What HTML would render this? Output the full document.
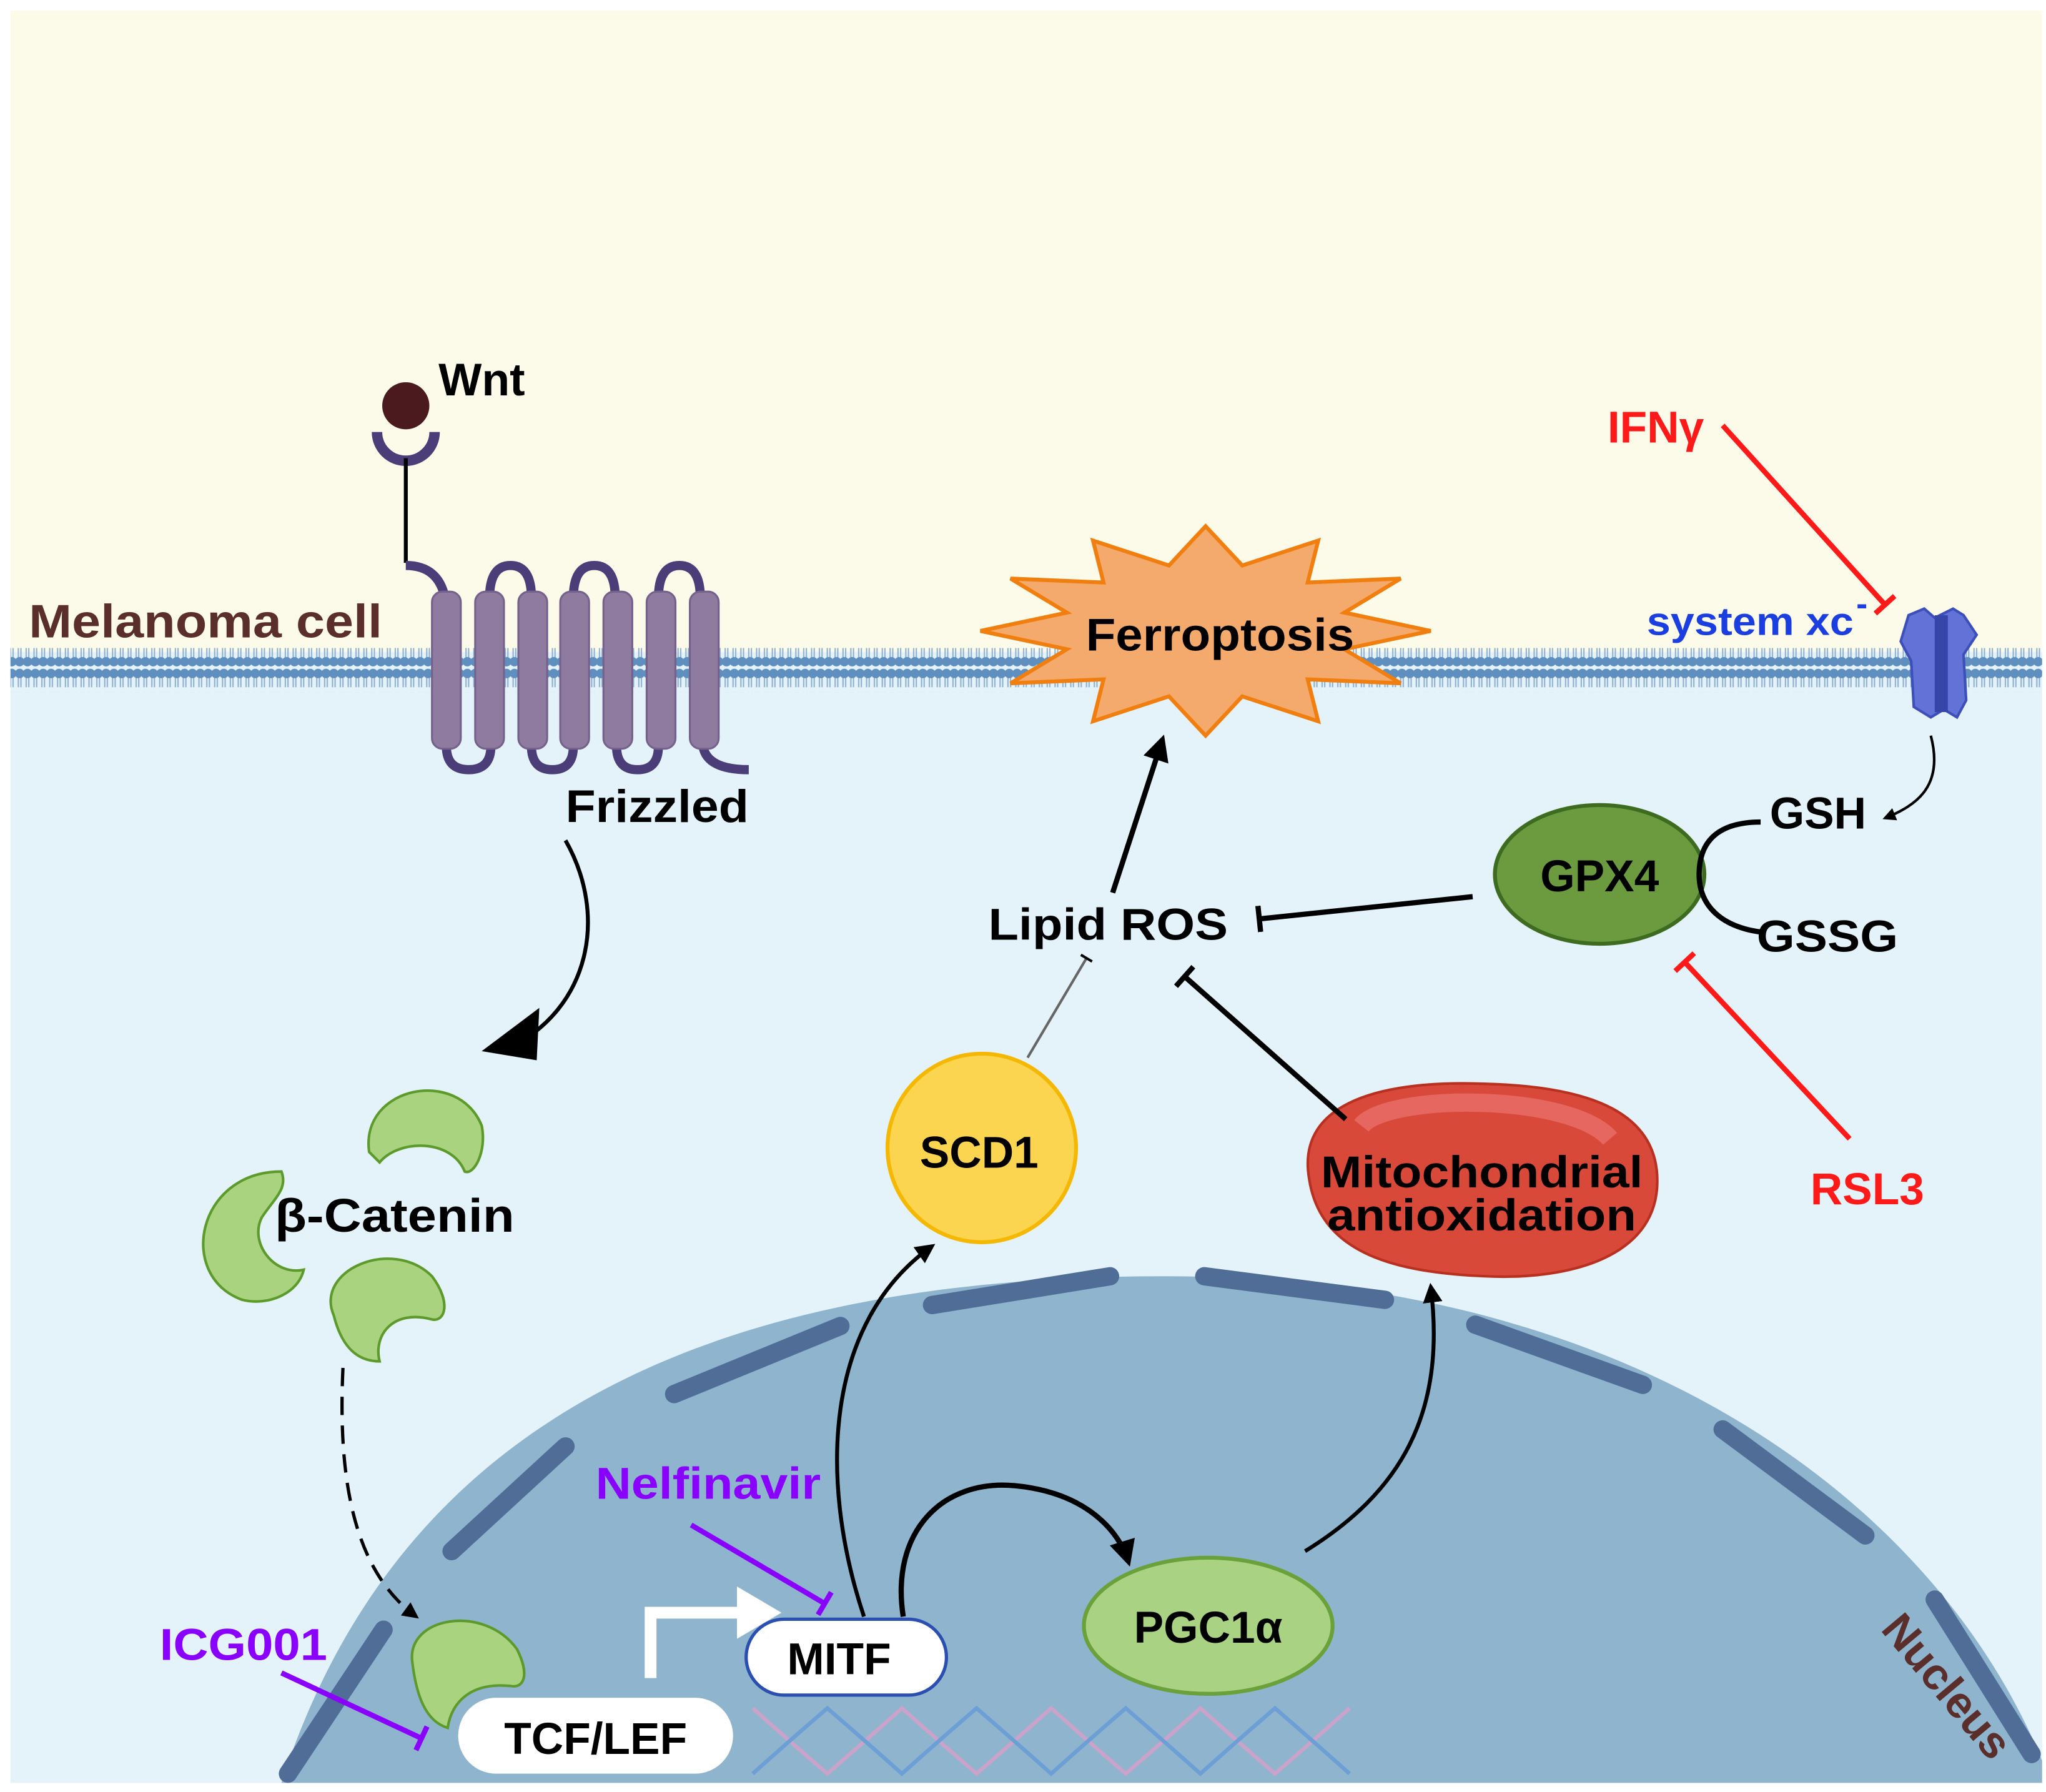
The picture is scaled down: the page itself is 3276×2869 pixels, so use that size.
<!DOCTYPE html>
<html><head><meta charset="utf-8"><style>html,body{margin:0;padding:0;background:#fff}svg{display:block}text{font-family:"Liberation Sans",sans-serif;font-weight:bold}</style></head><body>
<svg width="3276" height="2869" viewBox="0 0 1563 1369" preserveAspectRatio="none" xmlns="http://www.w3.org/2000/svg">
<defs>
<pattern id="lip" x="0" y="0" width="6" height="34" patternUnits="userSpaceOnUse">
<line x1="2" y1="6" x2="2" y2="15" stroke="#8fb0d0" stroke-width="1"/><line x1="4" y1="6" x2="4" y2="15" stroke="#8fb0d0" stroke-width="1"/>
<line x1="2" y1="19" x2="2" y2="28" stroke="#8fb0d0" stroke-width="1"/><line x1="4" y1="19" x2="4" y2="28" stroke="#8fb0d0" stroke-width="1"/>
<circle cx="3" cy="4.5" r="3.6" fill="#5f8fbf"/><circle cx="3" cy="29.5" r="3.6" fill="#5f8fbf"/>
</pattern>
<marker id="ar" viewBox="0 0 10 10" refX="8" refY="5" markerWidth="5" markerHeight="5" orient="auto"><path d="M0,0L10,5L0,10z" fill="#000"/></marker>
<marker id="tb" viewBox="0 0 4 20" refX="2" refY="10" markerWidth="3" markerHeight="5" orient="auto"><rect x="0" y="0" width="4" height="20" fill="#000"/></marker>
<marker id="tr" viewBox="0 0 4 20" refX="2" refY="10" markerWidth="3" markerHeight="5" orient="auto"><rect x="0" y="0" width="4" height="20" fill="#ff1a1a"/></marker>
<marker id="tp" viewBox="0 0 4 20" refX="2" refY="10" markerWidth="3" markerHeight="5" orient="auto"><rect x="0" y="0" width="4" height="20" fill="#8a00ff"/></marker>
</defs>
<rect x="8" y="8" width="1552" height="490" fill="#fcfbe9"/>
<rect x="8" y="498" width="1552" height="864" fill="#e4f2f9"/>
<rect x="8" y="495" width="1552" height="34" fill="url(#lip)"/>
<path d="M215,1362 C300,1100 520,975 890,975 C1250,975 1480,1150 1560,1345 L1560,1362 Z" fill="#8fb4cd"/>
<g stroke="#4f6d96" stroke-width="14" stroke-linecap="round" fill="none">
<path d="M220,1355 L293,1245"/>
<path d="M345,1185 L432,1105"/>
<path d="M515,1065 L642,1013"/>
<path d="M712,997 L848,975"/>
<path d="M920,975 L1058,993"/>
<path d="M1127,1012 L1255,1058"/>
<path d="M1316,1092 L1425,1173"/>
<path d="M1478,1222 L1552,1340"/>
</g>
<text x="1436" y="1245" font-size="34" fill="#5a2e2a" transform="rotate(50 1436 1245)">Nucleus</text>
<g fill="none" stroke-width="3">
<path d="M575,1305 q28,25 57,50 q29,-25 57,-50 q28,25 57,50 q29,-25 57,-50 q28,25 57,50 q29,-25 57,-50 q28,25 57,50 q29,-25 57,-50" stroke="#c9a3c9"/>
<path d="M575,1355 q28,-25 57,-50 q29,25 57,50 q28,-25 57,-50 q29,25 57,50 q28,-25 57,-50 q29,25 57,50 q28,-25 57,-50 q29,25 57,50" stroke="#6c9fd6"/>
</g>
<path d="M288,330 a22,22 0 0 0 44,0" fill="none" stroke="#4a3d78" stroke-width="8"/>
<circle cx="310" cy="310" r="18" fill="#4a1a1f"/>
<line x1="310" y1="350" x2="310" y2="430" stroke="#000" stroke-width="3"/>
<text x="335" y="302" font-size="35">Wnt</text>
<g fill="none" stroke="#4a3d78" stroke-width="7">
<path d="M310,432 q25,0 30,25"/>
<path d="M374,457 q0,-25 16,-25 q16,0 16,25"/>
<path d="M438,457 q0,-25 16,-25 q16,0 16,25"/>
<path d="M503,457 q0,-25 16,-25 q16,0 16,25"/>
<path d="M341,570 q0,18 17,18 q17,0 17,-18"/>
<path d="M406,570 q0,18 16,18 q16,0 16,-18"/>
<path d="M471,570 q0,18 16,18 q16,0 16,-18"/>
<path d="M537,570 q3,18 35,18"/>
</g>
<g fill="#8f7aa0" stroke="#75628a" stroke-width="1.5">
<rect x="330" y="452" width="22" height="120" rx="8"/><rect x="363" y="452" width="22" height="120" rx="8"/><rect x="396" y="452" width="22" height="120" rx="8"/><rect x="428" y="452" width="22" height="120" rx="8"/><rect x="461" y="452" width="22" height="120" rx="8"/><rect x="494" y="452" width="22" height="120" rx="8"/><rect x="527" y="452" width="22" height="120" rx="8"/>
</g>
<text x="22" y="487" font-size="36" fill="#5a2e2a" textLength="270" lengthAdjust="spacingAndGlyphs">Melanoma cell</text>
<text x="432" y="628" font-size="35" textLength="140" lengthAdjust="spacingAndGlyphs">Frizzled</text>
<path d="M432,642 C465,700 450,770 390,800" fill="none" stroke="#000" stroke-width="3"/>
<path d="M368,803 L412,770 L410,810 Z" fill="#000"/>
<g fill="#a9d37f" stroke="#5c9a2c" stroke-width="2">
<path d="M282,880 C275,830 350,815 368,860 C372,880 362,898 355,895 C345,870 305,870 290,888 Z"/>
<path d="M215,895 C150,895 135,975 185,993 C205,998 228,988 232,970 C210,975 190,950 200,930 C210,915 220,908 215,895 Z"/>
<path d="M255,1005 C240,970 300,945 330,975 C345,995 340,1010 330,1008 C300,1000 285,1020 290,1040 C270,1040 260,1025 255,1005 Z"/>
<path d="M315,1270 C310,1235 370,1225 395,1260 C405,1280 400,1290 390,1288 C360,1285 345,1300 342,1320 C325,1315 318,1295 315,1270 Z"/>
</g>
<text x="210" y="941" font-size="36" textLength="183" lengthAdjust="spacingAndGlyphs">β-Catenin</text>
<path d="M262,1045 C258,1130 270,1200 318,1235" fill="none" stroke="#000" stroke-width="2.5" stroke-dasharray="14,8" marker-end="url(#ar)"/>
<rect x="350" y="1297" width="210" height="58" rx="29" fill="#fff"/>
<text x="455" y="1340" font-size="34" text-anchor="middle">TCF/LEF</text>
<path d="M497,1282 L497,1232 L568,1232" fill="none" stroke="#fff" stroke-width="9"/>
<path d="M563,1212 L597,1232 L563,1252 Z" fill="#fff"/>
<rect x="570" y="1237" width="153" height="58" rx="29" fill="#fff" stroke="#2b4fb0" stroke-width="2.5"/>
<text x="641" y="1279" font-size="34" text-anchor="middle">MITF</text>
<text x="122" y="1268" font-size="34" fill="#8a00ff" textLength="128" lengthAdjust="spacingAndGlyphs">ICG001</text>
<line x1="215" y1="1278" x2="322" y2="1328" stroke="#8a00ff" stroke-width="4" marker-end="url(#tp)"/>
<text x="455" y="1145" font-size="34" fill="#8a00ff" textLength="172" lengthAdjust="spacingAndGlyphs">Nelfinavir</text>
<line x1="528" y1="1165" x2="630" y2="1225" stroke="#8a00ff" stroke-width="4" marker-end="url(#tp)"/>
<path d="M660,1235 C625,1130 630,1010 712,952" fill="none" stroke="#000" stroke-width="3" marker-end="url(#ar)"/>
<path d="M690,1235 C680,1170 720,1130 775,1135 C830,1140 855,1170 862,1193" fill="none" stroke="#000" stroke-width="4" marker-end="url(#ar)"/>
<path d="M997,1185 C1070,1140 1105,1080 1093,983" fill="none" stroke="#000" stroke-width="3" marker-end="url(#ar)"/>
<ellipse cx="923" cy="1242" rx="95" ry="52" fill="#aad283" stroke="#6aa13a" stroke-width="3"/>
<text x="923" y="1255" font-size="34" text-anchor="middle">PGC1α</text>
<circle cx="750" cy="877" r="72" fill="#fcd550" stroke="#f5b800" stroke-width="3"/>
<text x="748" y="892" font-size="34" text-anchor="middle">SCD1</text>
<path d="M1000,900 C990,840 1060,825 1135,828 C1215,830 1268,850 1266,905 C1264,960 1200,978 1135,975 C1060,972 1008,955 1000,900 Z" fill="#d8493a" stroke="#b83020" stroke-width="2"/>
<path d="M1040,860 C1060,835 1200,835 1230,870" fill="none" stroke="#f07a7a" stroke-width="14" opacity="0.6"/>
<text x="1132" y="907" font-size="34" text-anchor="middle" textLength="246" lengthAdjust="spacingAndGlyphs">Mitochondrial</text>
<text x="1132" y="940" font-size="34" text-anchor="middle" textLength="236" lengthAdjust="spacingAndGlyphs">antioxidation</text>
<text x="755" y="718" font-size="34" textLength="183" lengthAdjust="spacingAndGlyphs">Lipid ROS</text>
<line x1="785" y1="808" x2="830" y2="732" stroke="#666" stroke-width="2" marker-end="url(#tb)"/>
<line x1="1028" y1="855" x2="905" y2="746" stroke="#000" stroke-width="4" marker-end="url(#tb)"/>
<line x1="850" y1="682" x2="888" y2="565" stroke="#000" stroke-width="4" marker-end="url(#ar)"/>
<line x1="1125" y1="685" x2="962" y2="702" stroke="#000" stroke-width="4" marker-end="url(#tb)"/>
<polygon points="1093,482 1027,496 1070,522 999,519 1007,551 949,532 921,562 893,532 835,551 843,519 772,522 815,496 749,482 815,468 772,442 843,445 835,413 893,432 921,402 949,432 1007,413 999,445 1070,442 1027,468" fill="#f4aa6c" stroke="#f07f10" stroke-width="3"/>
<text x="932" y="497" font-size="35" text-anchor="middle" textLength="205" lengthAdjust="spacingAndGlyphs">Ferroptosis</text>
<ellipse cx="1222" cy="668" rx="80" ry="53" fill="#6c9a3e" stroke="#3d6b1f" stroke-width="3"/>
<text x="1222" y="681" font-size="34" text-anchor="middle">GPX4</text>
<path d="M1345,628 C1310,628 1298,645 1298,668 C1298,692 1315,708 1345,712" fill="none" stroke="#000" stroke-width="4"/>
<text x="1352" y="633" font-size="34">GSH</text>
<text x="1342" y="727" font-size="34" textLength="108" lengthAdjust="spacingAndGlyphs">GSSG</text>
<path d="M1458,470 L1470,465 L1478,472 L1492,465 L1500,470 L1510,485 L1500,500 L1502,535 L1495,548 L1485,542 L1475,548 L1462,540 L1460,505 L1452,490 Z" fill="#6272d6" stroke="#3d4fb8" stroke-width="2"/>
<rect x="1478" y="470" width="10" height="74" fill="#3545a8"/>
<text x="1258" y="485" font-size="30" fill="#1a3ee0" textLength="158" lengthAdjust="spacingAndGlyphs">system xc</text>
<text x="1418" y="470" font-size="26" fill="#1a3ee0">-</text>
<path d="M1475,562 C1485,600 1465,615 1440,625" fill="none" stroke="#000" stroke-width="2" marker-end="url(#ar)"/>
<text x="1228" y="338" font-size="34" fill="#ff1a1a">IFNγ</text>
<line x1="1316" y1="325" x2="1440" y2="462" stroke="#ff1a1a" stroke-width="4" marker-end="url(#tr)"/>
<text x="1383" y="920" font-size="34" fill="#ff1a1a">RSL3</text>
<line x1="1413" y1="870" x2="1287" y2="735" stroke="#ff1a1a" stroke-width="4" marker-end="url(#tr)"/>
</svg>
</body></html>
